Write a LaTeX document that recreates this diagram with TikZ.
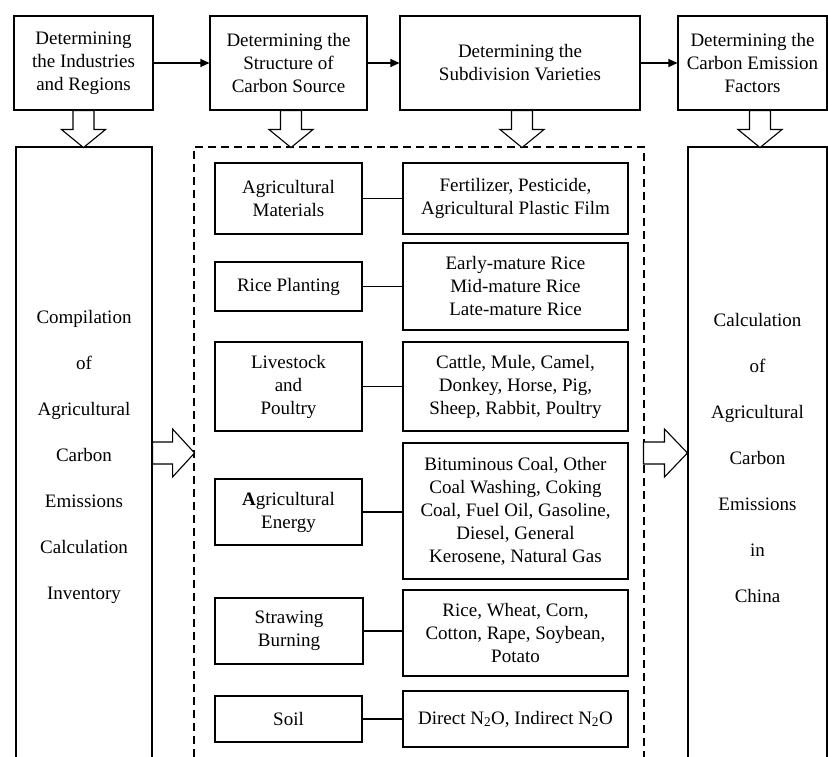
\documentclass[tikz,border=0pt]{standalone}
\usepackage{fontspec}
\setmainfont{Liberation Serif}
\usetikzlibrary{arrows.meta,calc}

\tikzset{
  box/.style={draw, line width=1.1pt, align=center, inner sep=1pt,
    font=\fontsize{19}{23}\selectfont},
  tallbox/.style={box, font=\fontsize{19}{46}\selectfont},
  dashbox/.style={draw, line width=1.1pt, dash pattern=on 8pt off 5pt},
  link/.style={line width=1.1pt},
  flow/.style={line width=1.1pt, -{Triangle[length=9pt,width=8pt]}},
  hollow/.style={line width=1.1pt, fill=white, line join=miter},
}

\begin{document}
\begin{tikzpicture}[x=1pt, y=-1pt]
  \useasboundingbox (0,0) rectangle (828,757);
  \clip (0,0) rectangle (828,757);
  % top row
  \node[box, minimum width=139, minimum height=94] (ind) at (83.5,63) {Determining\\the Industries\\and Regions};
  \node[box, minimum width=157, minimum height=94] (src) at (288.5,63) {Determining the\\Structure of\\Carbon Source};
  \node[box, minimum width=240, minimum height=94] (var) at (520,63) {Determining the\\Subdivision Varieties};
  \node[box, minimum width=149, minimum height=94] (fac) at (752.5,63) {Determining the\\Carbon Emission\\Factors};
  \draw[flow] (ind) -- (src);
  \draw[flow] (src) -- (var);
  \draw[flow] (var) -- (fac);
  % tall boxes, cut at the bottom
  \node[tallbox, minimum width=136, minimum height=620] (inv) at (84,457) {Compilation\\of\\Agricultural\\Carbon\\Emissions\\Calculation\\Inventory};
  \node[dashbox, minimum width=450, minimum height=630] (inner) at (419,462) {};
  \node[tallbox, minimum width=139, minimum height=622] (calc) at (757.5,458) {Calculation\\of\\Agricultural\\Carbon\\Emissions\\in\\China};
  % hollow arrows down
  \foreach \n/\dx in {ind/0, src/2.5, var/2, fac/7.5}
    \draw[hollow] ([xshift=\dx]\n.south) ++(-10.5,0) -- ++(0,19) -- ++(-11.5,0) -- ++(22,18) -- ++(22,-18) -- ++(-11.5,0) -- ++(0,-19) -- cycle;
  % hollow arrows right
  \draw[hollow] ([yshift=4]inv.east) ++(0,-11) -- ++(20,0) -- ++(0,-13) -- ++(22,24) -- ++(-22,24) -- ++(0,-13) -- ++(-20,0) -- cycle;
  \draw[hollow] ([yshift=5]calc.west) ++(-44,-11) -- ++(21,0) -- ++(0,-13) -- ++(23,24) -- ++(-23,24) -- ++(0,-13) -- ++(-21,0) -- cycle;
  % carbon sources
  \node[box, minimum width=147, minimum height=71] (mat) at (288.5,198.5) {Agricultural\\Materials};
  \node[box, minimum width=225, minimum height=71] (mat-list) at (515.5,198.5) {Fertilizer, Pesticide,\\Agricultural Plastic Film};
  \node[box, minimum width=147, minimum height=49] (rice) at (288.5,286.5) {Rice Planting};
  \node[box, minimum width=225, minimum height=87] (rice-list) at (515.5,286.5) {Early-mature Rice\\Mid-mature Rice\\Late-mature Rice};
  \node[box, minimum width=147, minimum height=89] (live) at (288.5,386.5) {Livestock\\and\\Poultry};
  \node[box, minimum width=225, minimum height=89] (live-list) at (515.5,386.5) {Cattle, Mule, Camel,\\Donkey, Horse, Pig,\\Sheep, Rabbit, Poultry};
  \node[box, minimum width=147, minimum height=66] (ene) at (288.5,512) {\textbf{A}gricultural\\Energy};
  \node[box, minimum width=225, minimum height=136] (ene-list) at (515.5,511) {Bituminous Coal, Other\\Coal Washing, Coking\\Coal, Fuel Oil, Gasoline,\\Diesel, General\\Kerosene, Natural Gas};
  \node[box, minimum width=148, minimum height=66] (straw) at (289,631) {Strawing\\Burning};
  \node[box, minimum width=225, minimum height=86] (straw-list) at (515.5,633) {Rice, Wheat, Corn,\\Cotton, Rape, Soybean,\\Potato};
  \node[box, minimum width=147, minimum height=46] (soil) at (288.5,719) {Soil};
  \node[box, minimum width=225, minimum height=56] (soil-list) at (515.5,719) {Direct N\textsubscript{2}O, Indirect N\textsubscript{2}O};
  \foreach \n in {mat, rice, live, ene, straw, soil}
    \draw[link] (\n.east) -- (\n.east -| \n-list.west);
\end{tikzpicture}
\end{document}
